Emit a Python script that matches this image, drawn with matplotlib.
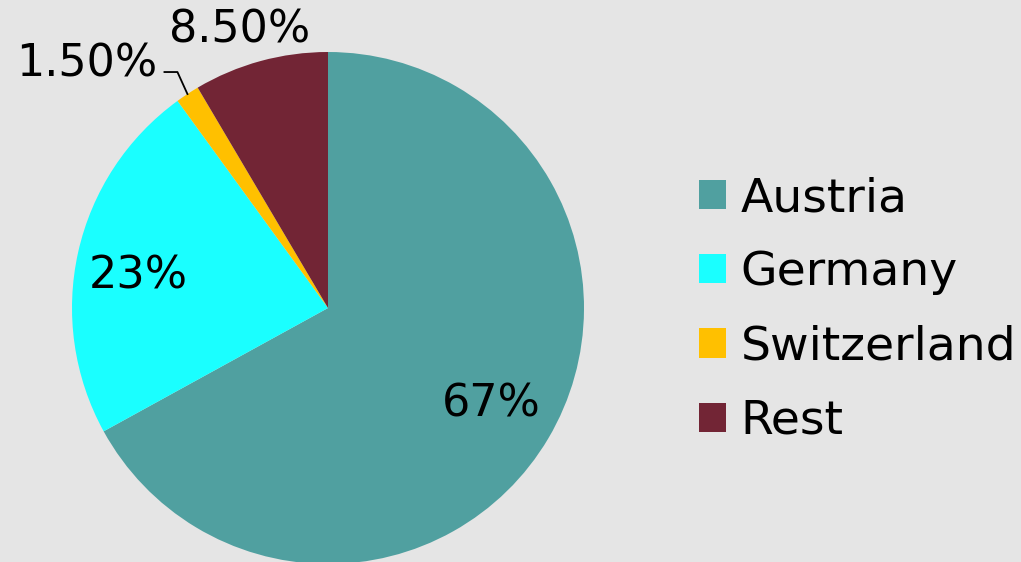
import numpy as np
import matplotlib
matplotlib.use("Agg")
import matplotlib.pyplot as plt

categories = ["Austria", "Germany", "Switzerland", "Rest"]
values = [67, 23, 1.5, 8.5]
pct_labels = ["67%", "23%", "1.50%", "8.50%"]
colors = ["#50A0A0", "#1AFFFF", "#FFC000", "#722535"]

W, H = 1021, 562
fig = plt.figure(figsize=(W / 100, H / 100), dpi=100, facecolor="#E5E5E5")
ax = fig.add_axes([0, 0, 1, 1])
ax.set_facecolor("#E5E5E5")

cx, cy, R = 328, H - 308, 256
wedges, _ = ax.pie(values, colors=colors, startangle=90, counterclock=False,
                   center=(cx, cy), radius=R, wedgeprops=dict(linewidth=0),
                   frame=True)
ax.set_xlim(0, W)
ax.set_ylim(0, H)
ax.set_aspect("equal")
ax.axis("off")

# label placement: (radial factor, angle offset deg)
place = [(0.74, 0.0), (0.75, 3.0), (1.34, 11.3), (1.14, 2.4)]
for w, lab, (rf, dang) in zip(wedges, pct_labels, place):
    mid = np.deg2rad((w.theta1 + w.theta2) / 2 + dang)
    x = cx + rf * R * np.cos(mid)
    y = cy + rf * R * np.sin(mid)
    ax.text(x, y, lab, ha="center", va="center", fontsize=32, color="black")

# leader line for small slice (Switzerland)
w = wedges[2]
mid = np.deg2rad((w.theta1 + w.theta2) / 2)
p0 = (cx + 1.0 * R * np.cos(mid), cy + 1.0 * R * np.sin(mid))
p1 = (p0[0] - 10, p0[1] + 22)
p2 = (p1[0] - 13, p1[1])
ax.plot([p0[0], p1[0], p2[0]], [p0[1], p1[1], p2[1]], color="black", lw=1.3)

leg = fig.legend(wedges, categories, loc="center left",
                 bbox_to_anchor=(699 / W, (H - 310) / H),
                 frameon=False, fontsize=34, handlelength=0.58, handleheight=0.58,
                 handletextpad=0.3, labelspacing=0.62, borderpad=0, borderaxespad=0)

fig.savefig("out.png", dpi=100, facecolor=fig.get_facecolor())
